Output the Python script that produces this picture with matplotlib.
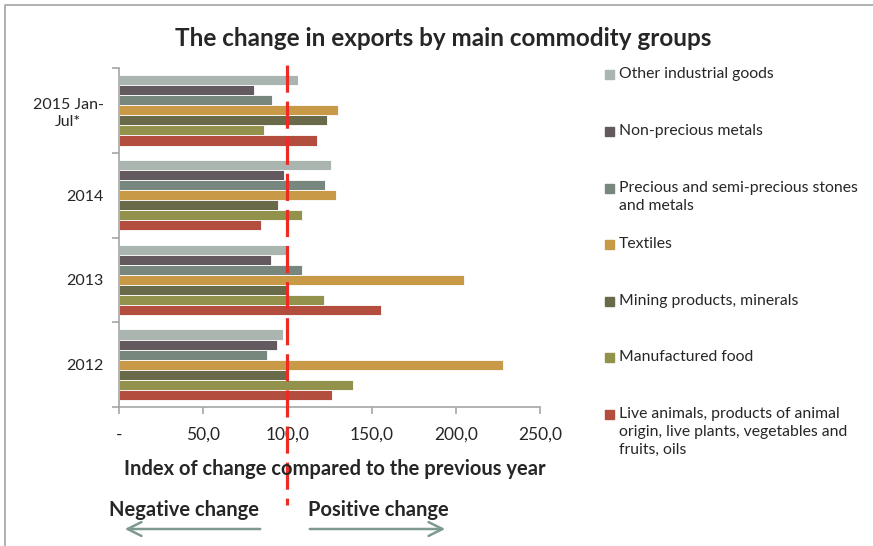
import matplotlib
matplotlib.use("Agg")
import matplotlib.pyplot as plt
from matplotlib.patches import Rectangle, FancyArrowPatch
from matplotlib.lines import Line2D
import numpy as np

plt.rcParams["font.family"] = ["Lato", "DejaVu Sans"]

# periods, bottom to top
periods = ["2012", "2013", "2014", "2015 Jan-\nJul*"]

# commodity groups, top bar of each group first
groups = [
    "Other industrial goods",
    "Non-precious metals",
    "Precious and semi-precious stones\nand metals",
    "Textiles",
    "Mining products, minerals",
    "Manufactured food",
    "Live animals, products of animal\norigin, live plants, vegetables and\nfruits, oils",
]
colors = ["#A9B5AE", "#625A5F", "#77877D", "#C89A48", "#686A4A", "#93924C", "#B34E3F"]

# index values per group, ordered like periods
other_industrial = [97.4, 98.9, 126.0, 106.0]
non_precious = [93.8, 90.4, 97.9, 80.0]
precious = [87.9, 108.7, 122.6, 90.9]
textiles = [228.1, 205.1, 129.1, 129.8]
mining = [99.6, 100.6, 94.5, 123.8]
manufactured_food = [138.7, 121.5, 108.9, 86.2]
live_animals = [126.6, 155.3, 84.5, 117.7]
values = [other_industrial, non_precious, precious, textiles,
          mining, manufactured_food, live_animals]

xticks = [0, 50, 100, 150, 200, 250]
xticklabels = ["-", "50,0", "100,0", "150,0", "200,0", "250,0"]
baseline = 100

W, H = 873, 546
text_col = "#262626"
axis_col = "#A6A6A6"

fig = plt.figure(figsize=(W / 100, H / 100), dpi=100)


def fx(px):
    return px / W


def fy(py):
    return 1 - py / H


ax = fig.add_axes([fx(119), fy(407), fx(540) - fx(119), fy(68) - fy(407)])

y = np.arange(len(periods))
n = len(groups)
h = 0.83 / n
for i, (vals, col) in enumerate(zip(values, colors)):
    offs = (n - 1) / 2 - i
    ax.barh(y + offs * h, vals, height=h, color=col, edgecolor="white", linewidth=0.6)

ax.set_xlim(0, 250)
ax.set_ylim(-0.5, len(periods) - 0.5)
for s in ["top", "right"]:
    ax.spines[s].set_visible(False)
for s in ["left", "bottom"]:
    ax.spines[s].set_color(axis_col)
    ax.spines[s].set_linewidth(1.2)

ax.set_xticks(xticks)
ax.set_xticklabels(xticklabels, fontsize=12.5, color=text_col)
ax.tick_params(axis="x", length=5, color=axis_col, width=1.2, pad=9)

ax.set_yticks(np.arange(len(periods) + 1) - 0.5)
ax.set_yticklabels([])
ax.tick_params(axis="y", which="major", length=5, color=axis_col, width=1.2)
ax.set_yticks(y, minor=True)
ax.set_yticklabels(periods, minor=True, fontsize=11.5, color=text_col,
                   ha="right", multialignment="center", linespacing=1.3)
ax.tick_params(axis="y", which="minor", length=0, pad=11)

# dashed baseline at 100, running down through the annotations
ax.add_line(Line2D([baseline, baseline], [1.01, -0.29],
                   transform=ax.get_xaxis_transform(), color="#EE2A24",
                   linewidth=2.3, linestyle=(0, (8.5, 2.8)), clip_on=False, zorder=5))

fig.text(fx(443), fy(38), "The change in exports by main commodity groups",
         ha="center", va="center", fontsize=17.5, fontweight="bold", color=text_col)
fig.text(fx(335), fy(469), "Index of change compared to the previous year",
         ha="center", va="center", fontsize=14.5, fontweight="bold", color=text_col)
fig.text(fx(184), fy(510), "Negative change", ha="center", va="center",
         fontsize=14.5, fontweight="bold", color=text_col)
fig.text(fx(378), fy(510), "Positive change", ha="center", va="center",
         fontsize=14.5, fontweight="bold", color=text_col)

arrow_col = "#7E9A8E"
for x0, x1 in [(263, 122), (307, 448)]:
    fig.add_artist(FancyArrowPatch((fx(x0), fy(529)), (fx(x1), fy(529)),
                                   transform=fig.transFigure, arrowstyle="->,head_length=10,head_width=5",
                                   color=arrow_col, linewidth=1.8, mutation_scale=1))

# legend, one entry per commodity group
leg_y = [74, 131, 188, 244, 301, 357, 414]
for name, col, ly in zip(groups, colors, leg_y):
    fig.add_artist(Rectangle((fx(605), fy(ly + 5)), fx(9), 9 / H,
                             transform=fig.transFigure, color=col))
    fig.text(fx(619), fy(ly - 7), name, ha="left", va="top", fontsize=11.3,
             color=text_col, linespacing=1.35)

# chart frame
fig.add_artist(Line2D([fx(5), fx(5), 1], [0, fy(5), fy(5)],
                      transform=fig.transFigure, color="#B0B0B0", linewidth=1.4))

fig.savefig("out.png", dpi=100)
